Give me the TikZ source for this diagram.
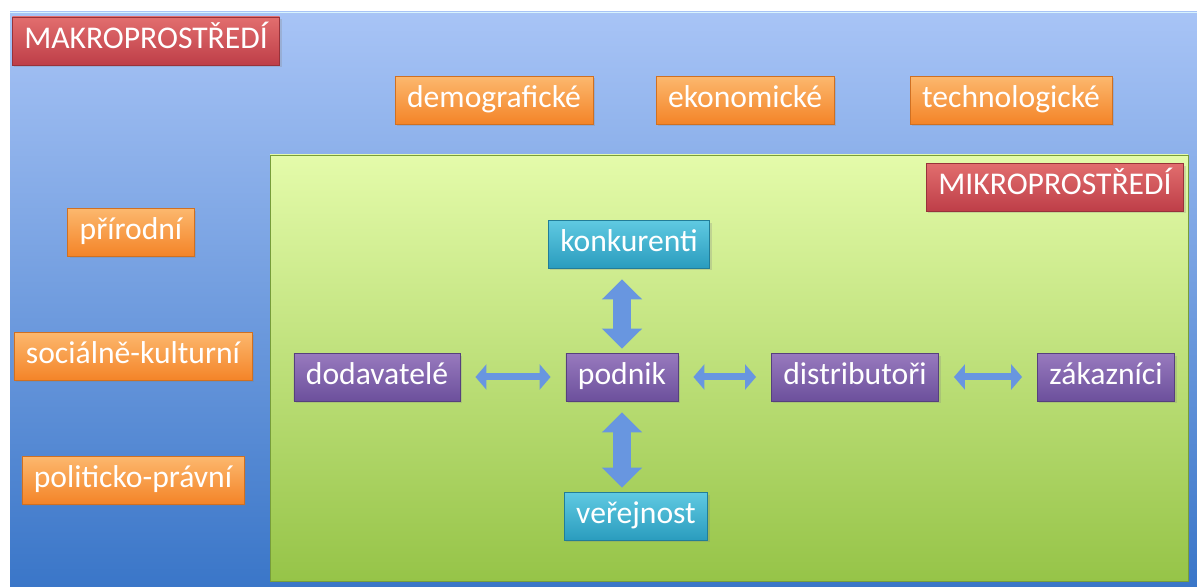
\documentclass[tikz,border=0pt]{standalone}
\usepackage{fontspec}
\setmainfont{Carlito}
\usetikzlibrary{arrows.meta,shadows}
\definecolor{bgtop}{RGB}{168,196,246}
\definecolor{bgbot}{RGB}{58,118,200}
\definecolor{grtop}{RGB}{228,251,170}
\definecolor{grbot}{RGB}{150,196,72}
\definecolor{ortop}{RGB}{252,184,110}
\definecolor{orbot}{RGB}{244,132,40}
\definecolor{rdtop}{RGB}{226,110,110}
\definecolor{rdbot}{RGB}{190,62,72}
\definecolor{putop}{RGB}{152,122,190}
\definecolor{pubot}{RGB}{108,80,156}
\definecolor{cytop}{RGB}{96,202,226}
\definecolor{cybot}{RGB}{42,156,190}
\definecolor{arcol}{RGB}{104,150,224}
\begin{document}
\begin{tikzpicture}[x=0.02cm,y=-0.02cm,
  box/.style={minimum height=0.96cm,inner xsep=0.24cm,text=white,
    text height=0.95em,text depth=0.05em,
    font=\fontsize{18}{21}\selectfont,
    drop shadow={opacity=0.25,shadow xshift=0.04cm,shadow yshift=-0.05cm}},
  orbox/.style={box,top color=ortop,bottom color=orbot,draw=orbot!85!black},
  redbox/.style={box,top color=rdtop,bottom color=rdbot,draw=rdbot!80!black},
  purbox/.style={box,top color=putop,bottom color=pubot,draw=pubot!80!black},
  cybox/.style={box,top color=cytop,bottom color=cybot,draw=cybot!80!black},
  harrow/.style={arcol,line width=0.14cm,{Triangle[width=0.5cm,length=0.22cm]}-{Triangle[width=0.5cm,length=0.22cm]},
    shorten <=0.3cm,shorten >=0.3cm},
  varrow/.style={arcol,line width=0.36cm,{Triangle[width=0.78cm,length=0.4cm]}-{Triangle[width=0.78cm,length=0.4cm]},
    shorten <=0.22cm,shorten >=0.08cm}]
\useasboundingbox (0,0) rectangle (1197,587);
\shade[top color=bgtop,bottom color=bgbot] (10,12) rectangle (1197,587);
\draw[cyan!15] (10,12) -- (1197,12);
\shade[top color=grtop,bottom color=grbot,draw=grbot!80!black] (270,155) rectangle (1188,581);

\node[redbox] (makro) at (146,41) {MAKROPROSTŘEDÍ};
\node[redbox] (mikro) at (1055,187) {MIKROPROSTŘEDÍ};

\node[orbox] (demo) at (494,100) {demografické};
\node[orbox] (eko) at (745,100) {ekonomické};
\node[orbox] (tech) at (1011,100) {technologické};
\node[orbox] (prir) at (131,232) {přírodní};
\node[orbox] (soc) at (133,356) {sociálně-kulturní};
\node[orbox] (pol) at (133,480) {politicko-právní};

\node[cybox] (konk) at (629,244) {konkurenti};
\node[purbox] (dod) at (377,377) {dodavatelé};
\node[purbox] (pod) at (622,377) {podnik};
\node[purbox] (dist) at (855,377) {distributoři};
\node[purbox] (zak) at (1106,377) {zákazníci};
\node[cybox] (ver) at (636,516) {veřejnost};

\draw[harrow] (dod) -- (pod);
\draw[harrow] (pod) -- (dist);
\draw[harrow] (dist) -- (zak);
\draw[varrow] (konk.south -| pod) -- (pod.north);
\draw[varrow] (pod.south) -- (ver.north -| pod);
\end{tikzpicture}
\end{document}
